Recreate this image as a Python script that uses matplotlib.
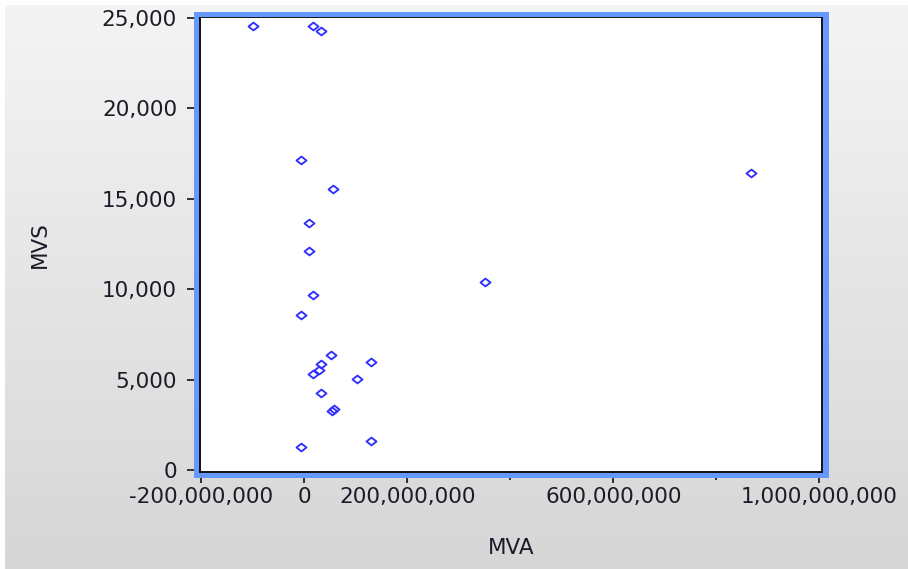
import numpy as np
import matplotlib
matplotlib.use("Agg")
import matplotlib.pyplot as plt
from matplotlib.path import Path
from matplotlib.patches import Rectangle
from matplotlib.ticker import FuncFormatter

# ---- data ----
mva = [-99e6, 17e6, 33e6, 868e6, -6e6, 56e6, 10e6, 10e6, 351e6, 17e6, -6e6,
       52e6, 33e6, 29e6, 17e6, 130e6, 103e6, 33e6, 58e6, 54e6, -6e6, 130e6]
mvs = [24550, 24550, 24280, 16430, 17150, 15540, 13660, 12110, 10400, 9680, 8570,
       6360, 5860, 5530, 5310, 5970, 5030, 4260, 3370, 3260, 1270, 1600]

x_ticks = [-200e6, 0, 200e6, 400e6, 600e6, 800e6, 1000e6]
x_labels = ["-200,000,000", "0", "200,000,000", "", "600,000,000", "", "1,000,000,000"]
y_ticks = [0, 5000, 10000, 15000, 20000, 25000]
x_title = "MVA"
y_title = "MVS"

W, H = 908, 569
fig = plt.figure(figsize=(W / 100, H / 100), dpi=100, facecolor="white")

# gradient background
bg = fig.add_axes([5 / W, 0, 1 - 5 / W, 1 - 5 / H], zorder=-10)
grad = np.linspace(0.957, 0.84, 256).reshape(-1, 1)
bg.imshow(np.dstack([grad, grad, grad]), aspect="auto", extent=[0, 1, 0, 1])
bg.set_axis_off()

left, right, top, bottom = 200, 822, 17, 472
ax = fig.add_axes([left / W, (H - bottom) / H, (right - left) / W, (bottom - top) / H])
ax.set_facecolor("white")

diamond = Path([(-1, 0), (0, 0.78), (1, 0), (0, -0.78), (-1, 0)],
               [Path.MOVETO, Path.LINETO, Path.LINETO, Path.LINETO, Path.CLOSEPOLY])
ax.plot(mva, mvs, linestyle="none", marker=diamond, markersize=7.2,
        markerfacecolor="none", markeredgecolor="#2f2fff", markeredgewidth=1.35,
        clip_on=False, zorder=3)

ax.set_xlim(-2.02e8, 1.005e9)
ax.set_ylim(-110, 25055)

for s in ax.spines.values():
    s.set_color("#111111")
    s.set_linewidth(1.4)

ax.set_yticks(y_ticks)
ax.yaxis.set_major_formatter(FuncFormatter(lambda v, p: f"{int(v):,}"))
ax.set_xticks(x_ticks)
ax.set_xticklabels(x_labels)
for lab in ax.get_xticklabels() + ax.get_yticklabels():
    lab.set_fontfamily("DejaVu Sans")
    lab.set_fontsize(15.5)
    lab.set_color("#1c1c28")
ax.tick_params(axis="y", direction="out", length=9.5, width=1.3, color="#222222", pad=7)
ax.tick_params(axis="x", direction="out", length=8, width=1.3, color="#222222", pad=3)
# shorter ticks for unlabeled positions
for t, lab in zip(ax.xaxis.get_major_ticks(), x_labels):
    if lab == "":
        t.tick1line.set_markersize(5.5)

ax.set_xlabel(x_title, fontsize=15.5, family="DejaVu Sans", color="#1c1c28",
              va="center", ha="center")
ax.xaxis.set_label_coords((511 - left) / (right - left), (bottom - 548) / (bottom - top))
ax.set_ylabel(y_title, fontsize=15.5, family="DejaVu Sans", color="#1c1c28",
              va="center", ha="center")
ax.yaxis.set_label_coords((40 - left) / (right - left), (bottom - 245) / (bottom - top))

# blue border around the plot area
blue = "#6699ff"
bw = 5
for (x0, y0, w, h) in [
    (left - bw - 1, top - bw, (right - left) + 2 * bw + 2, bw - 0.5),       # top
    (left - bw - 1, bottom + 1, (right - left) + 2 * bw + 2, bw),            # bottom
    (left - bw - 1, top - bw, bw, (bottom - top) + 2 * bw + 1),              # left
    (right + 1, top - bw, bw + 1, (bottom - top) + 2 * bw + 1),              # right
]:
    fig.patches.append(Rectangle((x0 / W, (H - y0 - h) / H), w / W, h / H,
                                 transform=fig.transFigure, facecolor=blue,
                                 edgecolor="none", zorder=5))

fig.savefig("out.png", dpi=100, facecolor=fig.get_facecolor())
